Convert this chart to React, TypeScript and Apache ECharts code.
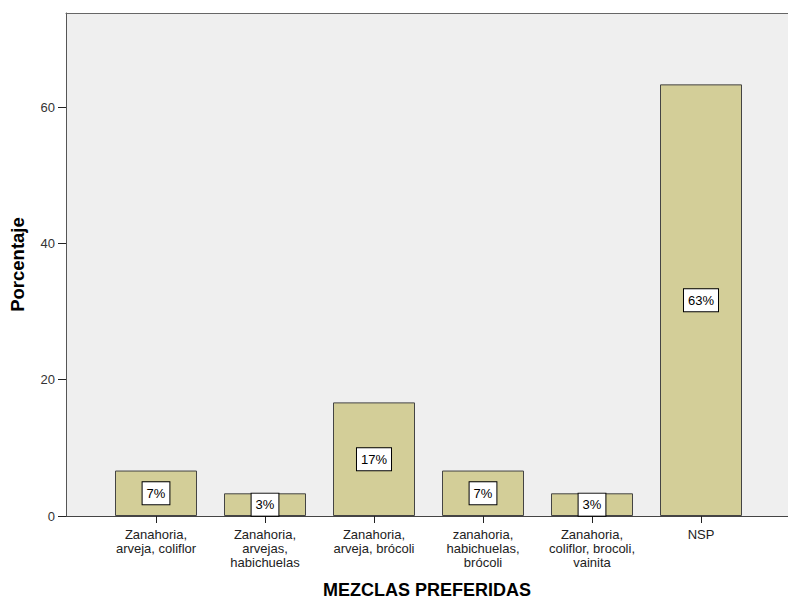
import React, { useEffect, useRef } from "react";
import * as echarts from "echarts";

const categories = [
  "Zanahoria,\narveja, coliflor",
  "Zanahoria,\narvejas,\nhabichuelas",
  "Zanahoria,\narveja, brócoli",
  "zanahoria,\nhabichuelas,\nbrócoli",
  "Zanahoria,\ncoliflor, brocoli,\nvainita",
  "NSP",
];
const values = [6.67, 3.33, 16.67, 6.67, 3.33, 63.33];
const yTicks = [0, 20, 40, 60];

const FONT = "'Liberation Sans', Arial, sans-serif";

export default function App() {
  const ref = useRef<HTMLDivElement>(null);
  useEffect(() => {
    if (!ref.current) return;
    const chart = echarts.init(ref.current, null, { renderer: "svg" });
    const yMax = 73.8;
    chart.setOption({
      animation: false,
      textStyle: { fontFamily: FONT },
      grid: [
        { left: 66, right: 0, top: 13, bottom: 85, show: true, backgroundColor: "#EFEFEF", borderWidth: 0, outerBoundsMode: "none", containLabel: false },
        { left: 101.5, right: 32.5, top: 13, bottom: 85, outerBoundsMode: "none", containLabel: false },
      ],
      xAxis: [
        {
          type: "value", gridIndex: 0, position: "bottom", min: 0, max: 1,
          axisLine: { show: true, lineStyle: { color: "#444", width: 1 } },
          axisTick: { show: false }, axisLabel: { show: false }, splitLine: { show: false },
          name: "MEZCLAS PREFERIDAS", nameLocation: "middle", nameGap: 65,
          nameTextStyle: { fontFamily: FONT, fontSize: 18, fontWeight: "bold", color: "#000" },
        },
        {
          type: "value", gridIndex: 0, position: "top", min: 0, max: 1,
          axisLine: { show: true, lineStyle: { color: "#666", width: 1 } },
          axisTick: { show: false }, axisLabel: { show: false }, splitLine: { show: false },
        },
        {
          type: "category", gridIndex: 1, data: categories,
          axisLine: { show: false },
          axisTick: { show: true, alignWithLabel: true, length: 7, lineStyle: { color: "#222" } },
          axisLabel: { interval: 0, color: "#222", fontSize: 13, fontFamily: FONT, lineHeight: 14, margin: 11 },
        },
      ],
      yAxis: [
        {
          type: "value", gridIndex: 0, min: 0, max: yMax, interval: 20,
          axisLine: { show: true, lineStyle: { color: "#555", width: 1 } },
          axisTick: { show: true, length: 8, lineStyle: { color: "#222" }, customValues: yTicks },
          axisLabel: { color: "#333", fontSize: 13, fontFamily: FONT, margin: 11, customValues: yTicks },
          splitLine: { show: false },
          name: "Porcentaje", nameLocation: "middle", nameGap: 39,
          nameTextStyle: { fontFamily: FONT, fontSize: 18.5, fontWeight: "bold", color: "#000" },
        },
        {
          type: "value", gridIndex: 1, min: 0, max: yMax, show: false,
        },
      ],
      series: [
        {
          type: "bar", xAxisIndex: 2, yAxisIndex: 1, data: values, barWidth: 82,
          itemStyle: { color: "#D3CE98", borderColor: "#444", borderWidth: 1 },
          label: {
            show: true, position: "inside",
            formatter: (p: any) => Math.round(p.value) + "%",
            color: "#000", fontSize: 13, fontFamily: FONT,
            backgroundColor: "#fff", borderColor: "#000", borderWidth: 1,
            padding: [5, 4, 4, 4],
          },
        },
      ],
    });
    return () => chart.dispose();
  }, []);
  return <div ref={ref} style={{ width: 788, height: 601, position: "absolute", left: 0, top: 0 }} />;
}
